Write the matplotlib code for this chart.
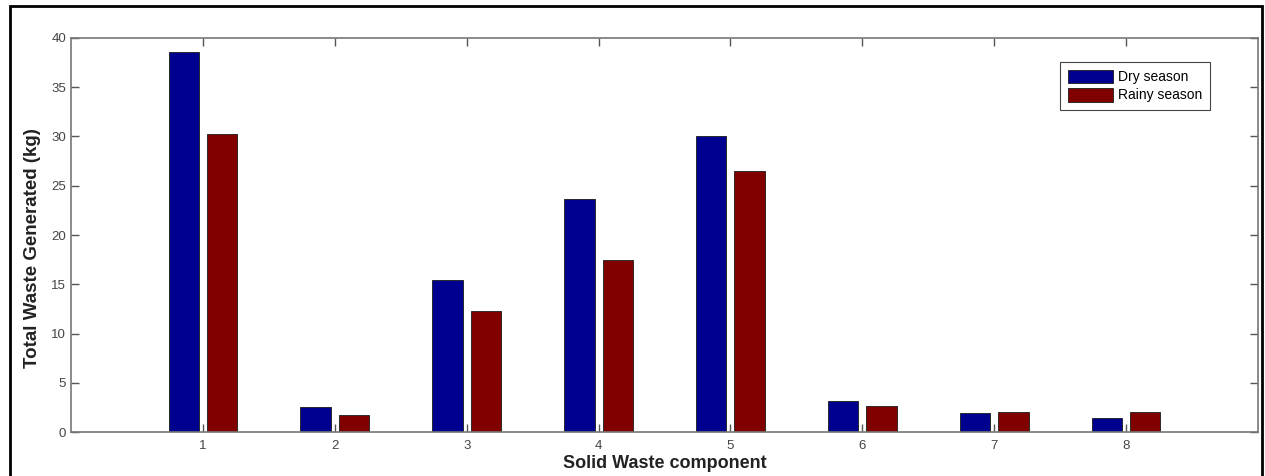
import numpy as np
import matplotlib
matplotlib.use("Agg")
import matplotlib.pyplot as plt
from matplotlib.patches import Rectangle

# Solid waste components and generated waste (kg)
components = [1, 2, 3, 4, 5, 6, 7, 8]
dry_season = [38.6, 2.5, 15.4, 23.7, 30.0, 3.1, 1.9, 1.4]
rainy_season = [30.3, 1.7, 12.3, 17.5, 26.5, 2.6, 2.05, 2.05]

plt.rcParams['font.family'] = ['Liberation Sans', 'DejaVu Sans']

fig = plt.figure(figsize=(12.65, 4.76), dpi=100)
ax = fig.add_axes([0.0561, 0.0924, 0.9384, 0.8278])

x = np.array(components, dtype=float)
w = 0.23
off = 0.145
ax.bar(x - off, dry_season, width=w, color='#00008f', edgecolor='#1a1a1a',
       linewidth=0.6, label='Dry season')
ax.bar(x + off, rainy_season, width=w, color='#800000', edgecolor='#1a1a1a',
       linewidth=0.6, label='Rainy season')

ax.set_xlim(0, 9)
ax.set_ylim(0, 40)
ax.set_xticks(components)
ax.set_yticks(np.arange(0, 41, 5))
ax.tick_params(direction='in', top=True, right=True, length=6, width=1,
               color='#555555', labelcolor='#444444', labelsize=9.5)
ax.tick_params(axis='x', pad=6)
for s in ax.spines.values():
    s.set_color('#777777')
    s.set_linewidth(1.2)

ax.set_xlabel('Solid Waste component', fontsize=13, fontweight='bold',
              color='#222222', labelpad=2)
ax.set_ylabel('Total Waste Generated (kg)', fontsize=13.5, fontweight='bold',
              color='#222222')
ax.yaxis.set_label_coords(-0.025, 0.468)

leg = ax.legend(loc='upper right', bbox_to_anchor=(0.9596, 0.939), fontsize=10,
                fancybox=False, framealpha=1, edgecolor='#444444',
                handlelength=3.3, handleheight=1.15, handletextpad=0.35,
                borderpad=0.55, labelspacing=0.25, borderaxespad=0)
leg.get_frame().set_linewidth(0.8)

# outer frame around the figure
fig.patches.append(Rectangle((10 / 1265, -0.05), 1252 / 1265, 1.05 - 6 / 476,
                             transform=fig.transFigure, fill=False,
                             edgecolor='black', linewidth=2))

fig.savefig('out.png', dpi=100)
